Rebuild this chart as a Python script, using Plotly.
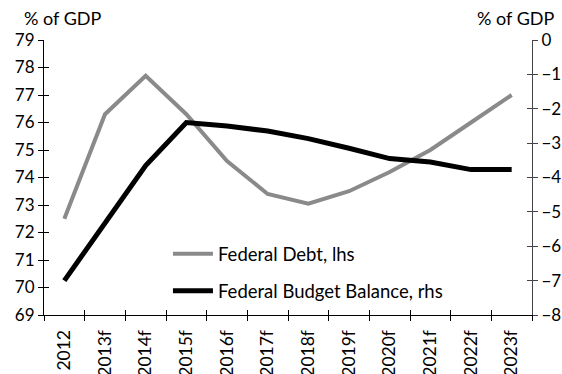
import plotly.graph_objects as go

years = ["2012", "2013f", "2014f", "2015f", "2016f", "2017f", "2018f", "2019f", "2020f", "2021f", "2022f", "2023f"]
federal_debt = [72.5, 76.3, 77.7, 76.3, 74.6, 73.4, 73.05, 73.5, 74.2, 75.0, 76.0, 77.0]
budget_balance = [-7.0, -5.3, -3.65, -2.4, -2.5, -2.65, -2.87, -3.15, -3.45, -3.55, -3.77, -3.77]

FONT = "Lato"
fig = go.Figure()
fig.add_trace(go.Scatter(x=years, y=federal_debt, name="Federal Debt, lhs", mode="lines",
                         legendgroup="a", line=dict(color="#8a8a8a", width=4), yaxis="y"))
fig.add_trace(go.Scatter(x=years, y=budget_balance, name="Federal Budget Balance, rhs", mode="lines",
                         legendgroup="b", line=dict(color="#000000", width=5), yaxis="y2"))
# helper traces so the overlay tick axes render
fig.add_trace(go.Scatter(x=[years[0]], y=[None], yaxis="y3", showlegend=False, hoverinfo="skip"))
fig.add_trace(go.Scatter(x=[years[0]], y=[None], yaxis="y4", showlegend=False, hoverinfo="skip"))
fig.add_trace(go.Scatter(x=[years[0]], y=[None], xaxis="x2", showlegend=False, hoverinfo="skip"))

common_y = dict(showgrid=False, zeroline=False, automargin=False, dtick=1)

fig.update_layout(
    width=562, height=374,
    margin=dict(l=44, r=30, t=40, b=59, autoexpand=False),
    plot_bgcolor="white", paper_bgcolor="white",
    font=dict(family=FONT, size=16, color="black"),
    showlegend=True,
    legend=dict(x=0.254, y=0.29, xanchor="left", yanchor="top", bgcolor="rgba(0,0,0,0)",
                font=dict(size=18.5), tracegroupgap=10, itemwidth=40),
    xaxis=dict(type="category", range=[-0.5, 11.5], showgrid=False, showline=True,
               linecolor="black", linewidth=1, ticks="outside", ticklen=5, tickcolor="black",
               tickson="boundaries", tickangle=-90, tickfont=dict(size=17.5), zeroline=False,
               automargin=False, ticklabelstandoff=7),
    xaxis2=dict(type="category", overlaying="x", side="bottom", categoryarray=years,
                categoryorder="array", range=[-0.5, 11.5], tickson="boundaries",
                ticks="inside", ticklen=5, tickcolor="black", showticklabels=False,
                showgrid=False, showline=False, automargin=False),
    yaxis=dict(range=[69, 79], showline=True, linecolor="black", ticks="outside", ticklen=5,
               tickcolor="black", tickfont=dict(size=17), **common_y),
    yaxis2=dict(range=[-8, 0], overlaying="y", side="right", showline=True, linecolor="#444444",
                ticks="outside", ticklen=5, tickcolor="#444444", tickfont=dict(size=17),
                **common_y),
    yaxis3=dict(range=[69, 79], overlaying="y", side="left", showline=False, ticks="inside",
                ticklen=5, tickcolor="black", showticklabels=False, **common_y),
    yaxis4=dict(range=[-8, 0], overlaying="y", side="right", showline=False, ticks="inside",
                ticklen=5, tickcolor="#444444", showticklabels=False, **common_y),
    annotations=[
        dict(text="% of GDP", xref="paper", yref="paper", x=-0.045, y=1.0, yshift=9,
             xanchor="left", yanchor="bottom", showarrow=False, font=dict(size=18)),
        dict(text="% of GDP", xref="paper", yref="paper", x=1.05, y=1.0, yshift=9,
             xanchor="right", yanchor="bottom", showarrow=False, font=dict(size=18)),
    ],
)

fig.write_html("out.html", config={"displayModeBar": False},
               post_script="document.body.style.margin='0';")
